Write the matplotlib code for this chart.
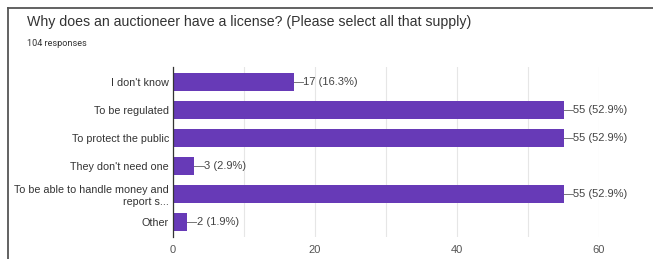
import matplotlib
matplotlib.use("Agg")
import matplotlib.pyplot as plt
from matplotlib.lines import Line2D

categories = ["I don't know", "To be regulated", "To protect the public",
              "They don't need one", "To be able to handle money and\nreport s...", "Other"]
counts = [17, 55, 55, 3, 55, 2]
percents = ["16.3%", "52.9%", "52.9%", "2.9%", "52.9%", "1.9%"]
xticks = [0, 20, 40, 60]

plt.rcParams['font.family'] = ['Liberation Sans', 'DejaVu Sans']
W, H = 653, 259
fig = plt.figure(figsize=(W/100, H/100), dpi=100)
fig.patch.set_facecolor('white')

# frame lines
fig.add_artist(Line2D([8/W, 8/W], [0, 1-8/H], color='#555555', lw=1.3, transform=fig.transFigure))
fig.add_artist(Line2D([8/W, 1], [1-8/H, 1-8/H], color='#555555', lw=1.3, transform=fig.transFigure))

fig.text(27/W, 1-22/H, "Why does an auctioneer have a license? (Please select all that supply)",
         fontsize=10.2, color='#333333', va='center', ha='left')
fig.text(27/W, 1-44/H, "104 responses", fontsize=6.6, color='#333333', va='center', ha='left',
         family=['Roboto', 'DejaVu Sans'])

left, right = 173, 599
top, bottom = 67, 237
ax = fig.add_axes([left/W, 1-bottom/H, (right-left)/W, (bottom-top)/H])
y = list(range(len(categories)))
ax.barh(y, counts, height=0.62, color='#673ab7', zorder=3)
ax.set_ylim(len(categories)-0.5+0.03, -0.5-0.03)
ax.set_xlim(0, 60)
ax.set_yticks(y)
ax.set_yticklabels(categories, fontsize=7.75, color='#333333')
ax.set_xticks(xticks)
ax.set_xticklabels([str(t) for t in xticks], fontsize=8, color='#555555')
ax.set_xticks(range(0, 61, 10), minor=True)
ax.grid(axis='x', which='both', color='#e6e6e6', lw=0.8, zorder=0)
ax.tick_params(axis='both', which='both', length=0)
ax.tick_params(axis='y', pad=3)
ax.tick_params(axis='x', pad=6)
for s in ['top', 'right', 'bottom']:
    ax.spines[s].set_visible(False)
ax.spines['left'].set_color('#333333')
ax.spines['left'].set_linewidth(0.9)
ax.spines['left'].set_zorder(4)

for yi, c, p in zip(y, counts, percents):
    ax.plot([c, c + 1.3], [yi, yi], color='#777777', lw=0.7, zorder=4)
    ax.text(c + 1.35, yi, f"{c} ({p})", fontsize=8, color='#444444', va='center', ha='left')

fig.savefig("out.png", dpi=100, facecolor='white')
